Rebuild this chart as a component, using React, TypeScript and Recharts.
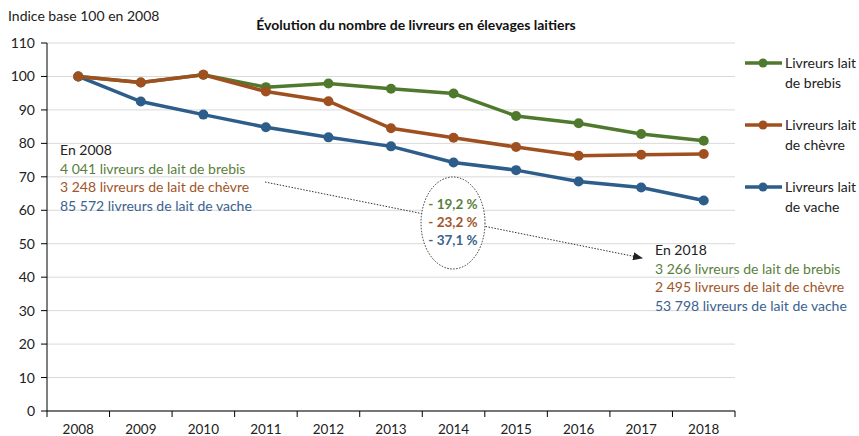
import React from "react";
import { LineChart, Line, XAxis, YAxis, CartesianGrid } from "recharts";

const years = ["2008", "2009", "2010", "2011", "2012", "2013", "2014", "2015", "2016", "2017", "2018"];
const brebis = [100, 98.2, 100.5, 96.8, 97.9, 96.3, 94.9, 88.2, 86.0, 82.8, 80.8];
const chevre = [100, 98.2, 100.5, 95.5, 92.6, 84.5, 81.7, 78.9, 76.3, 76.6, 76.8];
const vache = [100, 92.5, 88.6, 84.8, 81.8, 79.1, 74.3, 72.0, 68.6, 66.8, 62.9];
const yTicks = [0, 10, 20, 30, 40, 50, 60, 70, 80, 90, 100, 110];

const seriesNames = ["Livreurs lait de brebis", "Livreurs lait de chèvre", "Livreurs lait de vache"];
const start2008 = ["4 041 livreurs de lait de brebis", "3 248 livreurs de lait de chèvre", "85 572 livreurs de lait de vache"];
const end2018 = ["3 266 livreurs de lait de brebis", "2 495 livreurs de lait de chèvre", "53 798 livreurs de lait de vache"];
const changes = ["- 19,2 %", "- 23,2 %", "- 37,1 %"];

const GREEN = "#4f7a2e";
const BROWN = "#a0501f";
const BLUE = "#2d5d8a";
const COLORS = [GREEN, BROWN, BLUE];
const TEXT_COLORS = ["#5a7f3c", "#a0552a", "#3a6290"];

const FONT = "Lato, 'Open Sans', sans-serif";

const W = 859;
const H = 436;
const PLOT_LEFT = 47;
const PLOT_RIGHT = 735;
const AXIS_Y = 411;
const STEP = (PLOT_RIGHT - PLOT_LEFT) / years.length;

const data = years.map((year, i) => ({
  year,
  brebis: brebis[i],
  chevre: chevre[i],
  vache: vache[i],
}));

const XTick = (props: any) => {
  const { x, payload, index } = props;
  const half = STEP / 2;
  return (
    <g>
      <line x1={x - half} x2={x - half} y1={AXIS_Y} y2={AXIS_Y + 6} stroke="#000" />
      {index === years.length - 1 && (
        <line x1={x + half} x2={x + half} y1={AXIS_Y} y2={AXIS_Y + 6} stroke="#000" />
      )}
      <text
        x={x}
        y={AXIS_Y + 18}
        textAnchor="middle"
        dominantBaseline="central"
        fontSize={13.5}
        fill="#222"
        fontFamily={FONT}
      >
        {payload.value}
      </text>
    </g>
  );
};

// legend drawn by hand on the right, two text lines per series
const LegendBox = () => (
  <div
    style={{
      position: "absolute",
      left: 745,
      top: 53,
      fontFamily: FONT,
      fontSize: 14,
      color: "#222",
    }}
  >
    {seriesNames.map((name, i) => (
      <div
        key={name}
        style={{ position: "absolute", left: 0, top: i * 62, width: 114, height: 40 }}
      >
        <svg width={40} height={20} style={{ position: "absolute", left: 0, top: 0 }}>
          <line x1={0} x2={37} y1={10} y2={10} stroke={COLORS[i]} strokeWidth={3.5} />
          <circle cx={18} cy={10} r={4.5} fill={COLORS[i]} />
        </svg>
        <div style={{ position: "absolute", left: 40, top: 0, lineHeight: "20px", width: 80 }}>
          {name}
        </div>
      </div>
    ))}
  </div>
);

export default function App() {
  const labelBlock = (
    left: number,
    top: number,
    heading: string,
    lines: string[]
  ) => (
    <div
      style={{
        position: "absolute",
        left,
        top,
        fontFamily: FONT,
        fontSize: 14,
        lineHeight: "18.5px",
        whiteSpace: "nowrap",
      }}
    >
      <div style={{ color: "#222" }}>{heading}</div>
      {lines.map((t, i) => (
        <div key={t} style={{ color: TEXT_COLORS[i] }}>
          {t}
        </div>
      ))}
    </div>
  );

  return (
    <div
      style={{
        position: "fixed",
        left: 0,
        top: 0,
        width: W,
        height: H,
        background: "#fff",
        overflow: "hidden",
      }}
    >
      <div
        style={{
          position: "absolute",
          left: 8,
          top: 7,
          fontFamily: FONT,
          fontSize: 14,
          color: "#222",
        }}
      >
        Indice base 100 en 2008
      </div>
      <div
        style={{
          position: "absolute",
          left: 0,
          width: 832,
          top: 16,
          textAlign: "center",
          fontFamily: FONT,
          fontSize: 14,
          fontWeight: 700,
          color: "#111",
        }}
      >
        Évolution du nombre de livreurs en élevages laitiers
      </div>

      <LineChart
        width={W}
        height={H}
        data={data}
        margin={{ top: 43, right: W - PLOT_RIGHT, bottom: 0, left: 0 }}
        style={{ position: "absolute", left: 0, top: 0 }}
      >
        <CartesianGrid vertical={false} stroke="#d9d9d9" />
        <XAxis
          dataKey="year"
          height={25}
          padding={{ left: STEP / 2, right: STEP / 2 }}
          axisLine={{ stroke: "#000" }}
          tickLine={false}
          tick={<XTick />}
          interval={0}
        />
        <YAxis
          width={PLOT_LEFT}
          domain={[0, 110]}
          ticks={yTicks}
          interval={0}
          axisLine={{ stroke: "#000" }}
          tickLine={{ stroke: "#000" }}
          tickSize={6}
          tickMargin={6}
          tick={{ fill: "#222", fontSize: 14, fontFamily: FONT }}
        />
        <Line
          dataKey="vache"
          name={seriesNames[2]}
          stroke={BLUE}
          strokeWidth={3.5}
          dot={{ r: 5, fill: BLUE, stroke: BLUE, strokeWidth: 0 }}
          isAnimationActive={false}
        />
        <Line
          dataKey="brebis"
          name={seriesNames[0]}
          stroke={GREEN}
          strokeWidth={3.5}
          dot={{ r: 5, fill: GREEN, stroke: GREEN, strokeWidth: 0 }}
          isAnimationActive={false}
        />
        <Line
          dataKey="chevre"
          name={seriesNames[1]}
          stroke={BROWN}
          strokeWidth={3.5}
          dot={{ r: 5, fill: BROWN, stroke: BROWN, strokeWidth: 0 }}
          isAnimationActive={false}
        />
      </LineChart>

      <LegendBox />

      <svg
        width={W}
        height={H}
        style={{ position: "absolute", left: 0, top: 0, pointerEvents: "none" }}
      >
        <defs>
          <marker
            id="arrow"
            markerWidth={10}
            markerHeight={8}
            refX={9}
            refY={4}
            orient="auto"
            markerUnits="userSpaceOnUse"
          >
            <path d="M0,0 L10,4 L0,8 Z" fill="#222" />
          </marker>
        </defs>
        <line
          x1={265}
          y1={182}
          x2={642}
          y2={258}
          stroke="#333"
          strokeWidth={1}
          strokeDasharray="1.5 1.5"
          markerEnd="url(#arrow)"
        />
        <ellipse
          cx={453}
          cy={223}
          rx={32}
          ry={46}
          fill="#fff"
          stroke="#333"
          strokeWidth={1}
          strokeDasharray="1.5 1.5"
        />
        {changes.map((c, i) => (
          <text
            key={c}
            x={453}
            y={204 + i * 18}
            textAnchor="middle"
            dominantBaseline="central"
            fontFamily={FONT}
            fontSize={13.5}
            fontWeight={700}
            fill={TEXT_COLORS[i]}
          >
            {c}
          </text>
        ))}
      </svg>

      {labelBlock(60, 141, "En 2008", start2008)}
      {labelBlock(655, 241, "En 2018", end2018)}
    </div>
  );
}
